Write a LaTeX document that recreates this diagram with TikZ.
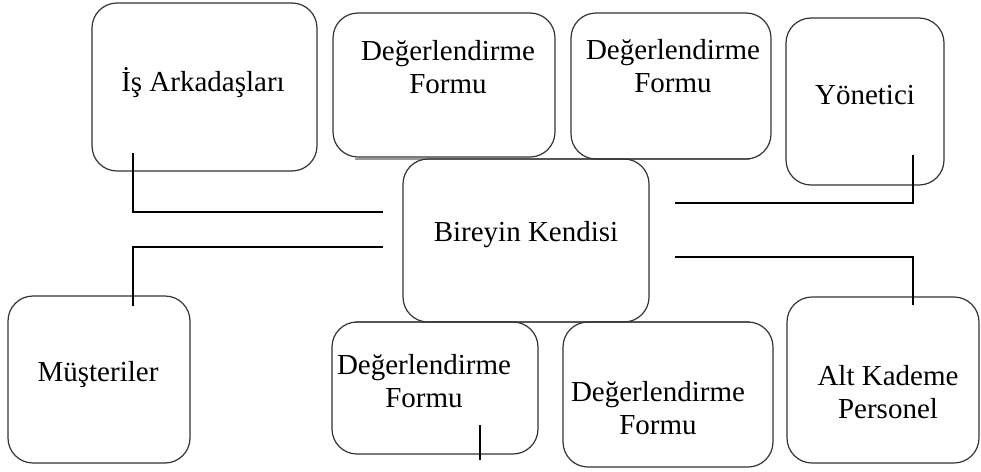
\documentclass[tikz,border=0pt]{standalone}
\usepackage{fontspec}
\setmainfont{Liberation Serif}
\usetikzlibrary{positioning}
\begin{document}
\begin{tikzpicture}[x=1pt,y=-1pt,
  box/.style={draw=black!80, line width=1.2pt, rounded corners=25pt, inner sep=0pt},
  lbl/.style={align=center, inner sep=0pt, font=\fontsize{29}{33}\selectfont},
  conn/.style={draw=black, line width=1.4pt},
  faint/.style={draw=black!40, line width=1.4pt}]
\useasboundingbox (0,0) rectangle (981,471);
% faint joining lines
\coordinate (gt1) at (355,159); \coordinate (gt2) at (750,159);
\coordinate (gb1) at (355,322); \coordinate (gb2) at (750,322);
\draw[faint] (gt1) -- (gt2);
\draw[faint] (gb1) -- (gb2);
% boxes
\node[box, minimum width=225pt, minimum height=168pt] (is)  at (204.5,87) {};
\node[box, minimum width=222pt, minimum height=144pt] (d1)  at (444,85) {};
\node[box, minimum width=200pt, minimum height=146pt] (d2)  at (671,86) {};
\node[box, minimum width=158pt, minimum height=167pt] (yon) at (865,101.5) {};
\node[box, minimum width=246pt, minimum height=163pt] (bk)  at (526,240.5) {};
\node[box, minimum width=182pt, minimum height=167pt] (mus) at (99,379.5) {};
\node[box, minimum width=206pt, minimum height=132pt] (d3)  at (435,388) {};
\node[box, minimum width=210pt, minimum height=145pt] (d4)  at (668,394.5) {};
\node[box, minimum width=192pt, minimum height=166pt] (alt) at (883,380) {};
% texts
\node[lbl] (tis)  at (203,83)  {İş Arkadaşları};
\node[lbl] (td1)  at (448,67)  {Değerlendirme\\Formu};
\node[lbl] (td2)  at (673,66)  {Değerlendirme\\Formu};
\node[lbl] (tyon) at (865,95)  {Yönetici};
\node[lbl] (tbk)  at (526,235) {Bireyin Kendisi};
\node[lbl] (tmus) at (98,375)  {Müşteriler};
\node[lbl] (td3)  at (424,381) {Değerlendirme\\Formu};
\node[lbl] (td4)  at (658,408) {Değerlendirme\\Formu};
\node[lbl] (talt) at (888,392) {Alt Kademe\\Personel};
% connector end points
\coordinate (a1) at (133,153); \coordinate (a2) at (133,212); \coordinate (a3) at (383,212);
\coordinate (b1) at (383,247); \coordinate (b2) at (133,247); \coordinate (b3) at (133,306);
\coordinate (c1) at (675,203); \coordinate (c2) at (913,203); \coordinate (c3) at (913,155);
\coordinate (e1) at (675,257); \coordinate (e2) at (913,257); \coordinate (e3) at (913,305);
\coordinate (t1) at (480,425); \coordinate (t2) at (480,460);
\draw[conn] (a1) -- (a2) -- (a3);
\draw[conn] (b1) -- (b2) -- (b3);
\draw[conn] (c1) -- (c2) -- (c3);
\draw[conn] (e1) -- (e2) -- (e3);
\draw[conn] (t1) -- (t2);
\end{tikzpicture}
\end{document}
